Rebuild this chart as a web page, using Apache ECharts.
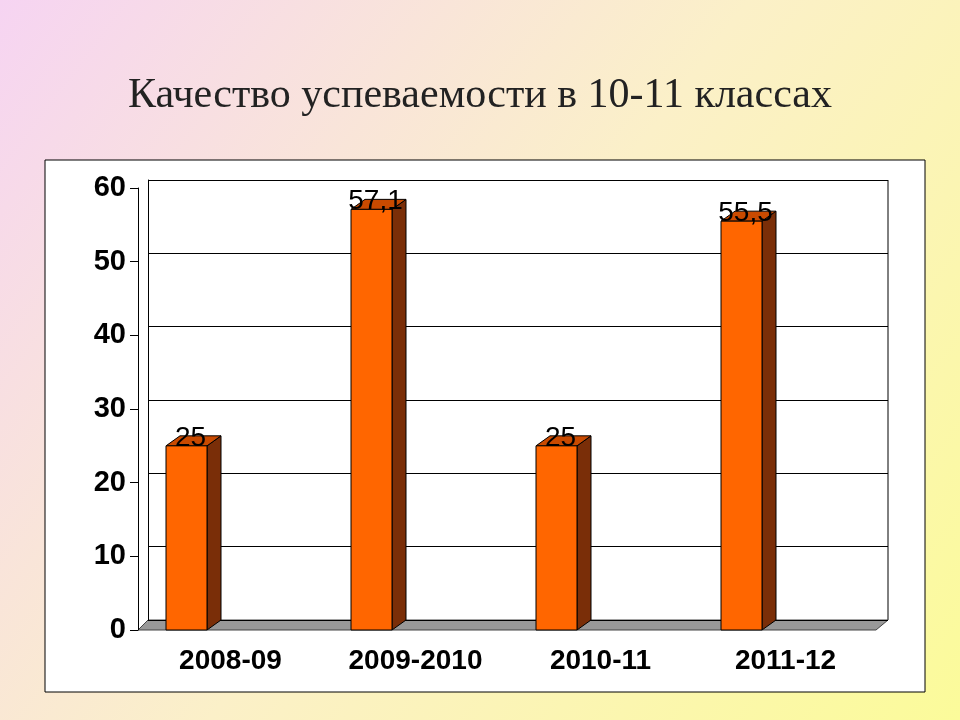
<!DOCTYPE html>
<html><head><meta charset="utf-8">
<script src="https://cdn.jsdelivr.net/npm/echarts@6/dist/echarts.min.js"></script>
<style>html,body{margin:0;padding:0}#c{width:960px;height:720px}</style>
</head><body><div id="c"></div>
<script>
var categories = ["2008-09", "2009-2010", "2010-11", "2011-12"];
var values = [25, 57.1, 25, 55.5];
var valueLabels = ["25", "57,1", "25", "55,5"];
var yTicks = [0, 10, 20, 30, 40, 50, 60];

var chart = echarts.init(document.getElementById("c"));
var dx = 14, dy = 10; // 3d depth
option = {
  backgroundColor: {
    type: "linear", x: 0, y: 0, x2: 1, y2: 1,
    colorStops: [{offset: 0, color: "#f6d4f2"}, {offset: 0.5, color: "#fbf0c8"}, {offset: 1, color: "#fbfb9a"}]
  },
  title: {
    text: "Качество успеваемости в 10-11 классах",
    left: "center", top: 70,
    textStyle: {fontFamily: "Liberation Serif", fontWeight: "normal", fontSize: 42, color: "#222"}
  },
  graphic: [
    {type: "rect", shape: {x: 45, y: 160, width: 880, height: 532}, style: {fill: "#fff", stroke: "#000", lineWidth: 1}, z: -10},
    {type: "line", shape: {x1: 888, y1: 180, x2: 888, y2: 620}, style: {stroke: "#000", lineWidth: 1}},
    {type: "polygon", shape: {points: [[138, 630], [148, 620], [888, 620], [876, 630]]}, style: {fill: "#999", stroke: "#444"}, z: 0}
  ],
  grid: [
    {left: 148, right: 72, top: 180, bottom: 100},
    {left: 138, right: 82, top: 188, bottom: 90}
  ],
  xAxis: [
    {gridIndex: 0, type: "category", data: categories, show: false},
    {gridIndex: 1, type: "category", data: categories, axisLine: {show: false}, axisTick: {show: false},
     axisLabel: {interval: 0, hideOverlap: false, fontFamily: "Liberation Sans", fontWeight: "bold", fontSize: 28, color: "#000", margin: 17}}
  ],
  yAxis: [
    {gridIndex: 0, type: "value", min: 0, max: 60, interval: 10, axisLabel: {show: false},
     axisLine: {show: true, lineStyle: {color: "#000"}}, axisTick: {show: false},
     splitLine: {lineStyle: {color: "#000", width: 1}}},
    {gridIndex: 1, type: "value", min: 0, max: 60, interval: 10, splitLine: {show: false},
     axisLine: {show: true, lineStyle: {color: "#000"}}, axisTick: {show: true, length: 8, lineStyle: {color: "#000"}},
     axisLabel: {fontFamily: "Liberation Sans", fontWeight: "bold", fontSize: 29, color: "#000", margin: 12,
       formatter: function (v) { return yTicks.indexOf(v) >= 0 ? v : ""; }}}
  ],
  series: [{
    type: "custom", xAxisIndex: 1, yAxisIndex: 1,
    data: values.map(function (v, i) { return [i, v]; }),
    renderItem: function (params, api) {
      var top = api.coord([api.value(0), api.value(1)]);
      var base = api.coord([api.value(0), 0]);
      var cx = top[0] - 44, w = 41, x0 = cx - w / 2, x1 = cx + w / 2;
      return {type: "group", children: [
        {type: "polygon", shape: {points: [[x1, top[1]], [x1 + dx, top[1] - dy], [x1 + dx, base[1] - dy], [x1, base[1]]]},
         style: {fill: "#7a2e08", stroke: "#000", lineWidth: 1}},
        {type: "polygon", shape: {points: [[x0, top[1]], [x0 + dx, top[1] - dy], [x1 + dx, top[1] - dy], [x1, top[1]]]},
         style: {fill: "#c94a00", stroke: "#000", lineWidth: 1}},
        {type: "rect", shape: {x: x0, y: top[1], width: w, height: base[1] - top[1]},
         style: {fill: "#ff6600", stroke: "#000", lineWidth: 1}},
        {type: "text", x: cx + 4, y: top[1] + 6,
         style: {text: valueLabels[params.dataIndex], fontFamily: "Liberation Sans", fontSize: 28,
                 fill: "#000", align: "center", verticalAlign: "bottom"}}
      ]};
    }
  }]
};
chart.setOption(option);
</script></body></html>
